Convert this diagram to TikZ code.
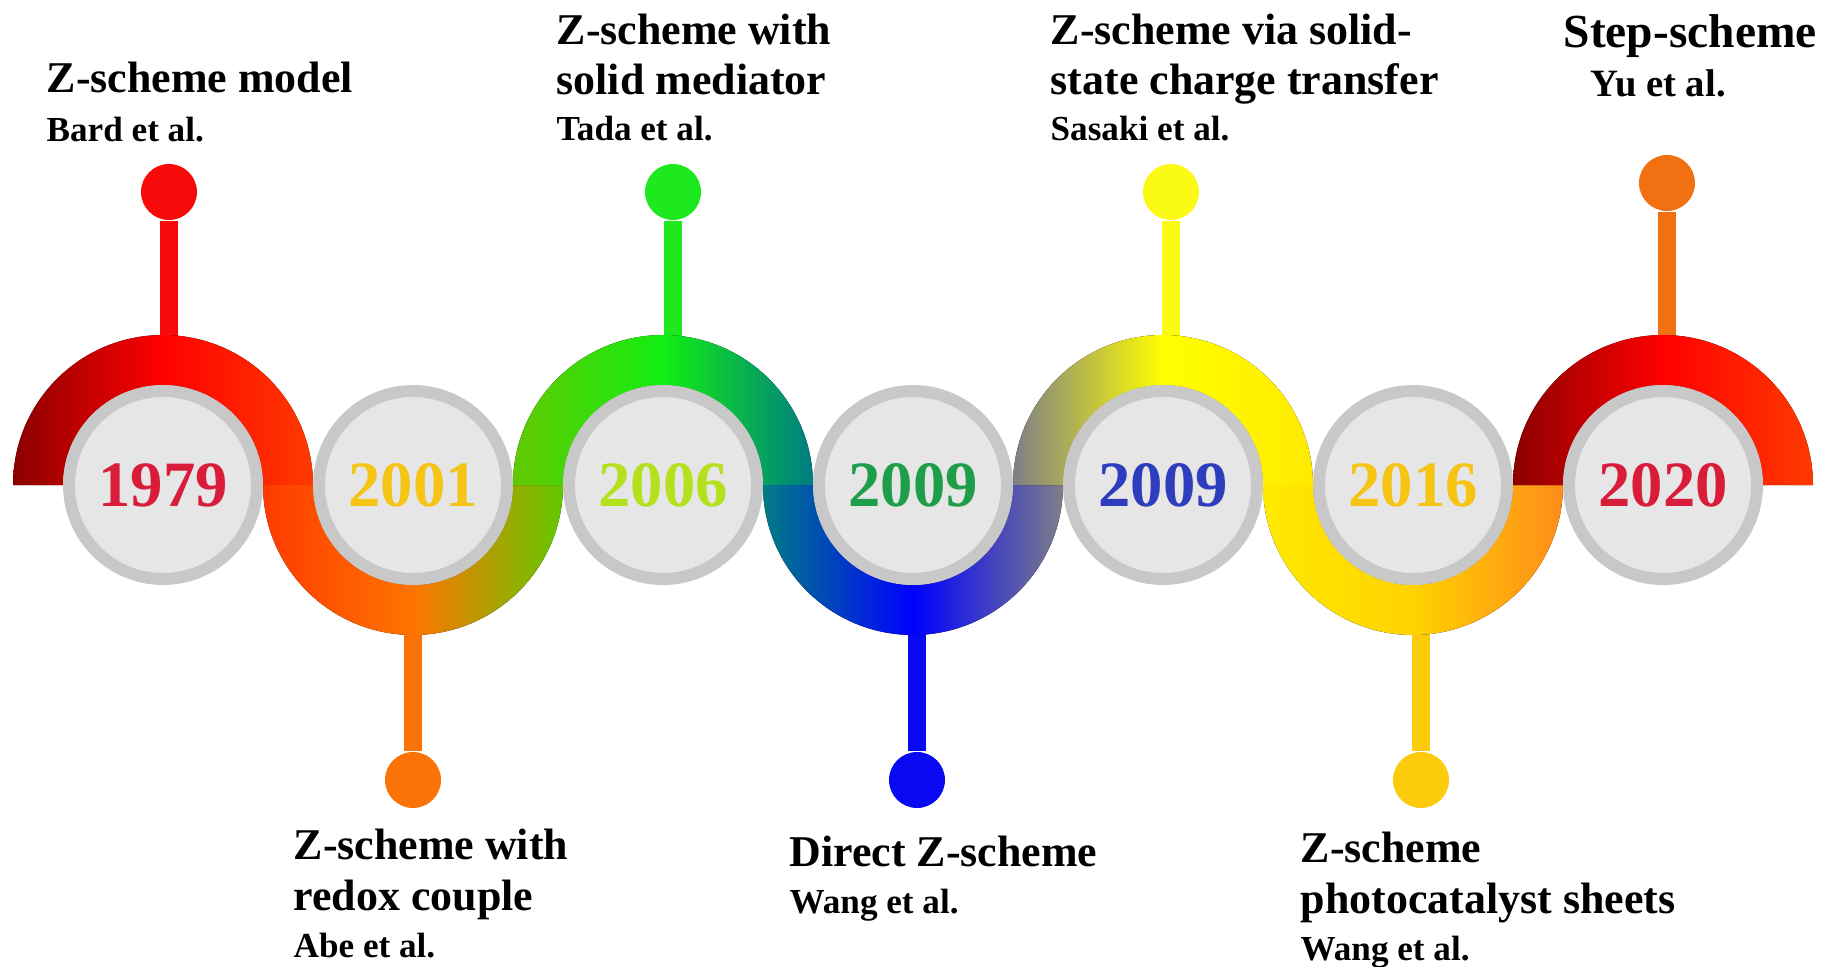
\documentclass[tikz,border=0pt]{standalone}
\usepackage{fontspec}
\setmainfont{Liberation Serif}
\usetikzlibrary{positioning}

% ring and year colours
\definecolor{ringgray}{HTML}{C8C8C8}
\definecolor{diskgray}{HTML}{E6E6E6}
\definecolor{yrcrimson}{HTML}{D91C3A}
\definecolor{yrgold}{HTML}{F5C414}
\definecolor{yrlime}{HTML}{B4E01E}
\definecolor{yrgreen}{HTML}{1F9E4A}
\definecolor{yrblue}{HTML}{2E3DBE}
% pin colours
\definecolor{pinred}{HTML}{F80A0A}
\definecolor{pinorange}{HTML}{FA7308}
\definecolor{pingreen}{HTML}{1EE81E}
\definecolor{pinblue}{HTML}{0A0AF2}
\definecolor{pinyellow}{HTML}{FAFA14}
\definecolor{pingold}{HTML}{FCCB0C}
\definecolor{pinamber}{HTML}{F07012}
% ribbon colours
\definecolor{rbdark}{HTML}{8B0000}
\definecolor{rbred}{HTML}{FF0000}
\definecolor{rbscarlet}{HTML}{FF3A00}
\definecolor{rborange}{HTML}{FF7400}
\definecolor{rbyellowgreen}{HTML}{62C800}
\definecolor{rbgreen}{HTML}{12EE12}
\definecolor{rbteal}{HTML}{007C84}
\definecolor{rbblue}{HTML}{0000FF}
\definecolor{rbgray}{HTML}{7E7E88}
\definecolor{rbyellow}{HTML}{FFFF00}
\definecolor{rbsun}{HTML}{FFEA00}
\definecolor{rbgoldmid}{HTML}{FFD200}
\definecolor{rbtangerine}{HTML}{FF8C1A}

\tikzset{
  yearbox/.style={circle, draw=ringgray, fill=diskgray, line width=0.12cm,
    minimum size=1.88cm, inner sep=0pt, font=\fontsize{18.4}{20}\selectfont\bfseries},
  dotnode/.style={circle, inner sep=0pt, minimum size=0.56cm},
  stemline/.style={line width=0.18cm},
  headtext/.style={anchor=base west, inner sep=0pt, align=left,
    font=\fontsize{12.5}{14.5}\selectfont\bfseries},
  reftext/.style={anchor=base west, inner sep=0pt,
    font=\fontsize{10}{12}\selectfont\bfseries},
}

% half rings of the ribbon: centre x, left, middle, right colour
\def\yc{4.81}
\def\ro{1.5}
\def\ri{1.0}
\newcommand{\ribbonup}[4]{%
  \fill[left color=#2, right color=#4, middle color=#3]
    ({#1-\ro},\yc) arc[start angle=180, end angle=0, radius=\ro]
    -- ({#1+\ri},\yc) arc[start angle=0, end angle=180, radius=\ri] -- cycle;}
\newcommand{\ribbondown}[4]{%
  \fill[left color=#2, right color=#4, middle color=#3]
    ({#1-\ro},\yc) arc[start angle=180, end angle=360, radius=\ro]
    -- ({#1+\ri},\yc) arc[start angle=360, end angle=180, radius=\ri] -- cycle;}

\begin{document}
\begin{tikzpicture}
  \useasboundingbox (0,0) rectangle (18.46,9.66);
  % pins with their stems
  \foreach \i/\x/\yp/\ys/\col in {1/1.69/7.74/6.26/pinred, 2/4.13/1.86/3.36/pinorange,
      3/6.73/7.74/6.26/pingreen, 4/9.17/1.86/3.36/pinblue, 5/11.71/7.74/6.26/pinyellow,
      6/14.21/1.86/3.36/pingold, 7/16.67/7.83/6.26/pinamber}
  {
    \node[dotnode, fill=\col] (p\i) at (\x,\yp) {};
    \coordinate (s\i) at (\x,\ys);
    \draw[stemline, \col] (p\i) -- (s\i);
  }
  % ribbon
  \ribbonup{1.63}{rbdark}{rbred}{rbscarlet}
  \ribbondown{4.13}{rbscarlet}{rborange}{rbyellowgreen}
  \ribbonup{6.63}{rbyellowgreen}{rbgreen}{rbteal}
  \ribbondown{9.13}{rbteal}{rbblue}{rbgray}
  \ribbonup{11.63}{rbgray}{rbyellow}{rbsun}
  \ribbondown{14.13}{rbsun}{rbgoldmid}{rbtangerine}
  \ribbonup{16.63}{rbdark}{rbred}{rbscarlet}
  % years
  \foreach \i/\x/\yr/\col in {1/1.63/1979/yrcrimson, 2/4.13/2001/yrgold, 3/6.63/2006/yrlime,
      4/9.13/2009/yrgreen, 5/11.63/2009/yrblue, 6/14.13/2016/yrgold, 7/16.63/2020/yrcrimson}
    \node[yearbox, text=\col] (c\i) at (\x,\yc) {\yr};
  % labels above (base = last line)
  \node[headtext] (t1) at (0.46,8.74) {Z-scheme model};
  \node[reftext] (r1) at (0.46,8.25) {Bard et al.};
  \node[headtext] (t3) at (5.56,8.71) {Z-scheme with\\solid mediator};
  \node[reftext] (r3) at (5.56,8.26) {Tada et al.};
  \node[headtext] (t5) at (10.50,8.71) {Z-scheme via solid-\\state charge transfer};
  \node[reftext] (r5) at (10.50,8.26) {Sasaki et al.};
  \node[headtext, font=\fontsize{13.5}{15}\selectfont\bfseries] (t7) at (15.63,9.19) {Step-scheme};
  \node[reftext, font=\fontsize{11}{13}\selectfont\bfseries] (r7) at (15.90,8.69) {Yu et al.};
  % labels below
  \node[headtext] (t2) at (2.93,0.56) {Z-scheme with\\redox couple};
  \node[reftext] (r2) at (2.93,0.09) {Abe et al.};
  \node[headtext] (t4) at (7.89,1.00) {Direct Z-scheme};
  \node[reftext] (r4) at (7.89,0.53) {Wang et al.};
  \node[headtext] (t6) at (13.00,0.53) {Z-scheme\\photocatalyst sheets};
  \node[reftext] (r6) at (13.00,0.06) {Wang et al.};
\end{tikzpicture}
\end{document}
